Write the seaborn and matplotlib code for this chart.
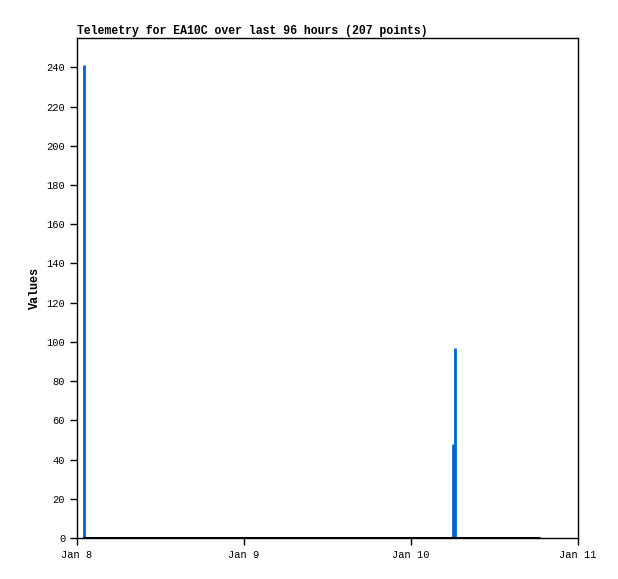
import matplotlib
matplotlib.use("Agg")
import matplotlib.pyplot as plt
import matplotlib.dates as mdates
import seaborn as sns
import pandas as pd

# telemetry: flat at zero except a few spikes
series_start = "2024-01-08 00:50"
series_end = "2024-01-10 18:30"
spike_times = ["2024-01-08 01:00", "2024-01-10 06:05", "2024-01-10 06:20"]
spike_values = [241, 48, 97]

sns.set_theme(style="white")
plt.rcParams['font.family'] = ['Liberation Mono', 'DejaVu Sans Mono']

df = pd.DataFrame({"time": pd.to_datetime(spike_times), "value": spike_values})

fig = plt.figure(figsize=(6.18, 5.79), dpi=100)
ax = fig.add_axes([77 / 618, 1 - 538 / 579, 501 / 618, 500 / 579])

ax.vlines(df["time"], 0, df["value"], color="#0066CC", linewidth=2)
ax.hlines(0, pd.Timestamp(series_start), pd.Timestamp(series_end),
          color="black", linewidth=2.2)

ax.set_xlim(pd.Timestamp("2024-01-08"), pd.Timestamp("2024-01-11"))
ax.set_ylim(0, 255)
ax.set_yticks(range(0, 241, 20))
ax.xaxis.set_major_locator(mdates.DayLocator())
ax.xaxis.set_major_formatter(mdates.DateFormatter("%b %-d"))

for s in ax.spines.values():
    s.set_color("black")
    s.set_linewidth(1)
ax.tick_params(axis="both", direction="out", length=5, width=1,
               color="black", labelsize=7.5, labelcolor="black",
               bottom=True, left=True)
ax.set_ylabel("Values", fontsize=8.5, fontweight="bold", color="black")
ax.set_title("Telemetry for EA10C over last 96 hours (207 points)",
             loc="left", fontsize=8.3, fontweight="bold", color="black", pad=3)

fig.savefig("out.png", dpi=100)
